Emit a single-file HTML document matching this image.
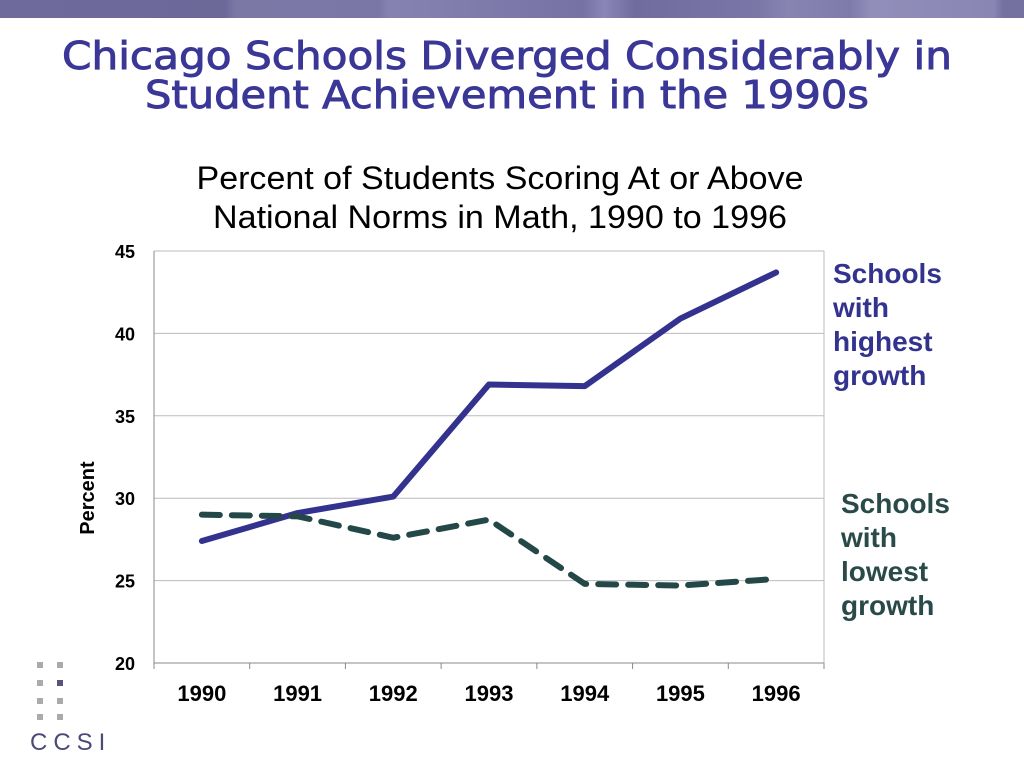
<!DOCTYPE html>
<html><head><meta charset="utf-8"><style>
body{margin:0;width:1024px;height:768px;background:#fff;position:relative;overflow:hidden;font-family:"Liberation Sans",sans-serif}
.bar{position:absolute;top:0;left:0;width:1024px;height:18px;background:linear-gradient(90deg,#6e6a9c 0%,#6c6898 22%,#7c78a6 23%,#7a76a6 37%,#8682b0 38%,#7672a4 57%,#8a86b6 59%,#716c9e 62%,#7a76a6 74%,#8884b2 77%,#7e7aaa 83%,#928eba 85%,#8a86b4 97%,#7470a0 98%)}
</style></head><body>
<div class="bar"></div>
<svg width="1024" height="768" style="position:absolute;top:0;left:0">
<text x="507" y="69" text-anchor="middle" font-family="DejaVu Sans" font-size="38" fill="#3a3797" stroke="#3a3797" stroke-width="0.9" textLength="890" lengthAdjust="spacingAndGlyphs">Chicago Schools Diverged Considerably in</text>
<text x="507" y="108" text-anchor="middle" font-family="DejaVu Sans" font-size="38" fill="#3a3797" stroke="#3a3797" stroke-width="0.9" textLength="724" lengthAdjust="spacingAndGlyphs">Student Achievement in the 1990s</text>
<g id="logo" fill="#aaa">
<rect x="37" y="662" width="6" height="6"/><rect x="57" y="662" width="6" height="6"/>
<rect x="37" y="680" width="6" height="6"/><rect x="57" y="680" width="6" height="6" fill="#555577"/>
<rect x="37" y="698" width="6" height="6"/><rect x="57" y="698" width="6" height="6"/>
<rect x="37" y="714" width="6" height="6"/><rect x="57" y="714" width="6" height="6"/>
<text x="30" y="750" font-size="24" fill="#4a4a78" font-family="Liberation Sans" letter-spacing="6">CCSI</text>
</g>
<text x="500" y="189" text-anchor="middle" font-size="32" fill="#000" textLength="607" lengthAdjust="spacingAndGlyphs">Percent of Students Scoring At or Above</text>
<text x="500" y="228" text-anchor="middle" font-size="32" fill="#000" textLength="574" lengthAdjust="spacingAndGlyphs">National Norms in Math, 1990 to 1996</text>
<text transform="translate(94,498) rotate(-90)" text-anchor="middle" font-size="20" font-weight="bold">Percent</text>
<g id="grid"></g><g id="axes"></g><g id="series"></g>
<text x="833" y="283" font-size="28" font-weight="bold" fill="#33338f"><tspan x="833">Schools</tspan><tspan x="833" dy="34">with</tspan><tspan x="833" dy="34">highest</tspan><tspan x="833" dy="34">growth</tspan></text>
<text x="841" y="513" font-size="28" font-weight="bold" fill="#2a4a4a"><tspan x="841">Schools</tspan><tspan x="841" dy="34">with</tspan><tspan x="841" dy="34">lowest</tspan><tspan x="841" dy="34">growth</tspan></text>
</svg>
<script>
const years=["1990","1991","1992","1993","1994","1995","1996"];
const highest=[27.4,29.1,30.1,36.9,36.8,40.9,43.7];
const lowest=[29.0,28.9,27.6,28.7,24.8,24.7,25.1];
const yTicks=[20,25,30,35,40,45];
const NS="http://www.w3.org/2000/svg";
const L=154,R=824,T=251,B=663,yMin=20,yMax=45;
const step=(R-L)/years.length;
const xs=i=>L+step*(i+0.5);
const ys=v=>B-(v-yMin)/(yMax-yMin)*(B-T);
function mk(tag,attrs,parent){const e=document.createElementNS(NS,tag);for(const k in attrs)e.setAttribute(k,attrs[k]);document.getElementById(parent).appendChild(e);return e;}
yTicks.forEach(t=>{
 const g=mk('line',{x1:L,x2:R,y1:ys(t),y2:ys(t),stroke:t==yMin?'#888':'#bbb','stroke-width':1},'grid');
 
 
 const tx=mk('text',{x:135,y:ys(t)+7,'text-anchor':'end','font-size':18,'font-weight':'bold'},'axes');
 tx.textContent=t;
 
 
});
mk('line',{x1:L,x2:L,y1:T,y2:B,stroke:'#888'},'axes');
mk('line',{x1:R,x2:R,y1:T,y2:B,stroke:'#bbb'},'axes');
for(let i=0;i<=years.length;i++)mk('line',{x1:L+step*i,x2:L+step*i,y1:B,y2:B+6,stroke:'#888'},'axes');
years.forEach((y,i)=>{
 const tx=mk('text',{x:xs(i),y:701,'text-anchor':'middle','font-size':22,'font-weight':'bold'},'axes');
 tx.textContent=y;
 
 
});
const p1=mk('polyline',{points:highest.map((v,i)=>xs(i)+','+ys(v)).join(' '),fill:'none',stroke:'#33338f','stroke-width':6,'stroke-linecap':'round','stroke-linejoin':'round'},'series');


const p2=mk('polyline',{points:lowest.map((v,i)=>xs(i)+','+ys(v)).join(' '),fill:'none',stroke:'#244848','stroke-width':6,'stroke-dasharray':'18 12','stroke-linecap':'round','stroke-linejoin':'round'},'series');


</script>
</body></html>
